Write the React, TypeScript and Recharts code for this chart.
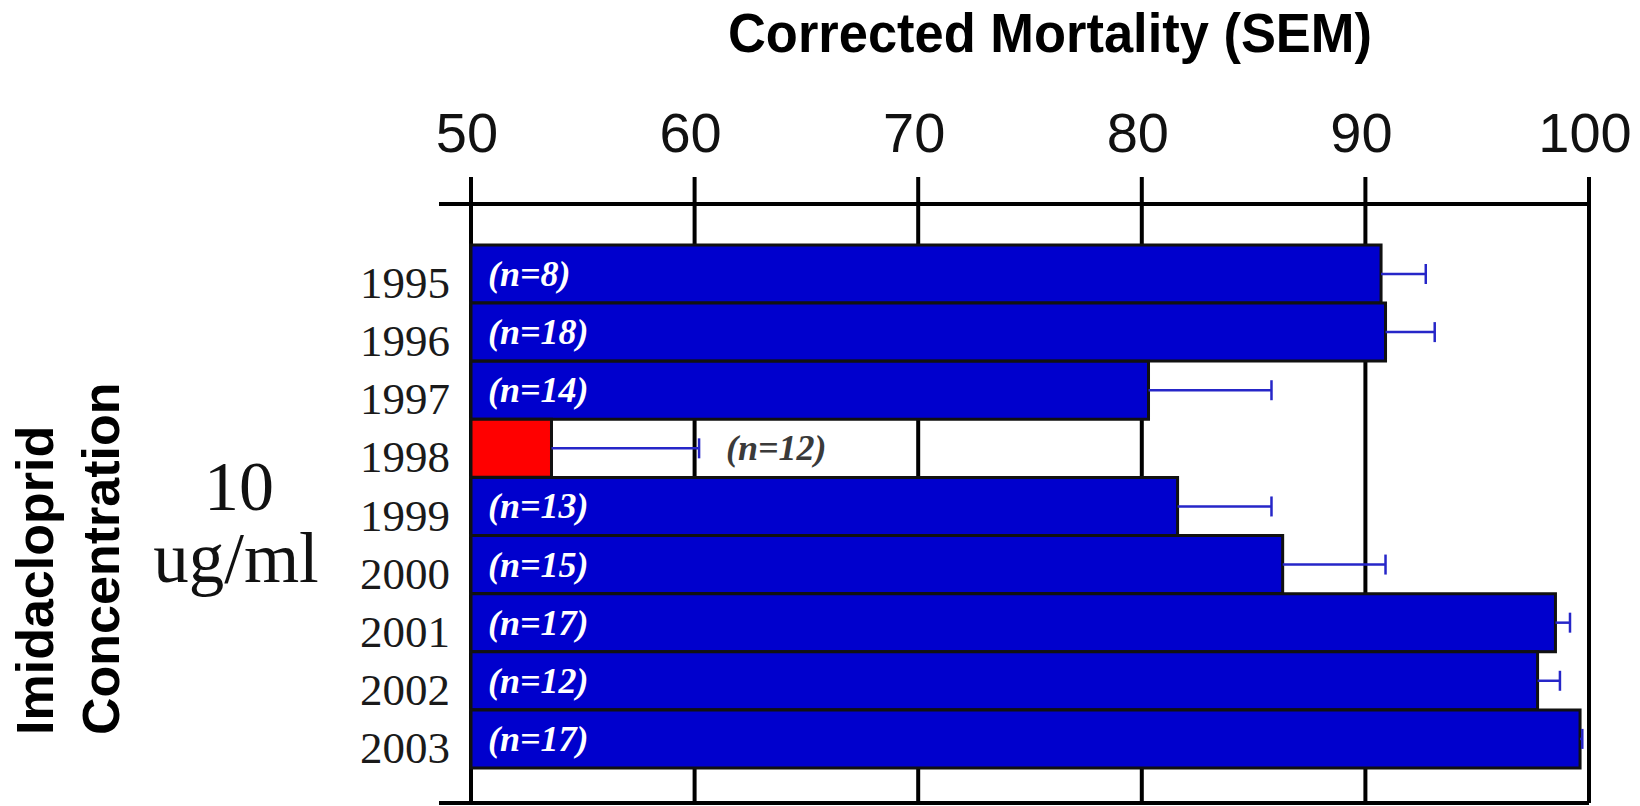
import { BarChart, Bar, XAxis, YAxis, CartesianGrid, LabelList, Label, Cell } from "recharts";

const years = ["1995", "1996", "1997", "1998", "1999", "2000", "2001", "2002", "2003"];
const mortality = [90.7, 90.9, 80.3, 53.6, 81.6, 86.3, 98.5, 97.7, 99.6];
const sem = [2.0, 2.2, 5.5, 6.6, 4.2, 4.6, 0.65, 1.0, 0.1];
const sampleSizes = [8, 18, 14, 12, 13, 15, 17, 12, 17];
const axisTicks = [50, 60, 70, 80, 90, 100];
const highlightYear = "1998";

const rows = years.map((year, i) => ({
  year,
  mortality: mortality[i],
  sem: sem[i],
  n: sampleSizes[i],
}));

const SERIF = "'Liberation Serif', 'Times New Roman', serif";
const SANS = "'Liberation Sans', Arial, Helvetica, sans-serif";
const BLUE = "#0000cd";
const WHISKER = "#2626c8";

// short bars get their (n=..) tag after the whisker instead of inside
const isShort = (i: number) => rows[i].mortality < 60;

const TopTick = ({ x, y, payload }: any) => (
  <text x={x - 4} y={y} textAnchor="middle" fontFamily={SANS} fontSize={56} fill="#111">
    {payload.value}
  </text>
);

const YearTick = ({ x, y, payload }: any) => (
  <text x={x + 73} y={y + 9} textAnchor="end" dominantBaseline="central" fontFamily={SERIF} fontSize={45} fill="#1a1a1a">
    {payload.value}
  </text>
);

const Whisker = (props: any) => {
  const { x, y, width, height } = props;
  const cy = y + height / 2;
  const end = x + width;
  return (
    <g stroke={WHISKER} strokeWidth={2.5}>
      <line x1={x} y1={cy} x2={end} y2={cy} />
      <line x1={end} y1={cy - 10} x2={end} y2={cy + 10} />
    </g>
  );
};

const InsideTag = (props: any) => {
  const { x, y, height, value, index } = props;
  if (isShort(index)) return null;
  return (
    <text x={x + 17} y={y + height / 2 + 12} fontFamily={SERIF} fontStyle="italic" fontWeight="bold" fontSize={36} fill="#fff">
      {`(n=${value})`}
    </text>
  );
};

const OutsideTag = (props: any) => {
  const { x, y, width, height, value, index } = props;
  if (!isShort(index)) return null;
  return (
    <text x={x + width + 27} y={y + height / 2 + 12} fontFamily={SERIF} fontStyle="italic" fontWeight="bold" fontSize={36} fill="#3a3a3a">
      {`(n=${value})`}
    </text>
  );
};

const TitleLabel = () => (
  <text
    x={1050}
    y={52}
    textAnchor="middle"
    fontFamily={SANS}
    fontWeight="bold"
    fontSize={56}
    textLength={644}
    lengthAdjust="spacingAndGlyphs"
    fill="#000"
  >
    Corrected Mortality (SEM)
  </text>
);

const LeftLabels = () => (
  <g>
    <text transform="translate(53,735) rotate(-90)" fontFamily={SANS} fontWeight="bold" fontSize={52} fill="#000">
      Imidacloprid
    </text>
    <text transform="translate(119,735) rotate(-90)" fontFamily={SANS} fontWeight="bold" fontSize={52} fill="#000">
      Concentration
    </text>
    <text x={239} y={510} textAnchor="middle" fontFamily={SERIF} fontSize={70} fill="#111">
      10
    </text>
    <text x={236} y={582} textAnchor="middle" fontFamily={SERIF} fontSize={71} fill="#111">
      ug/ml
    </text>
  </g>
);

export default function App() {
  return (
    <div style={{ position: "absolute", left: 0, top: 0, background: "#fff" }}>
      <BarChart
        width={1640}
        height={806}
        data={rows}
        layout="vertical"
        barCategoryGap={0}
        barGap={0}
        margin={{ top: 0, right: 51, bottom: 0, left: 0 }}
      >
        <CartesianGrid horizontal={false} syncWithTicks stroke="#000" strokeWidth={4} xAxisId="top" yAxisId="years" />
        <XAxis
          xAxisId="top"
          orientation="top"
          type="number"
          domain={[50, 100]}
          ticks={axisTicks}
          padding={{ left: 32, right: 0 }}
          height={204}
          tickSize={27}
          tickMargin={25}
          tick={<TopTick />}
          axisLine={{ stroke: "#000", strokeWidth: 4 }}
          tickLine={{ stroke: "#000", strokeWidth: 4 }}
        >
          <Label content={<TitleLabel />} />
        </XAxis>
        <XAxis
          xAxisId="bottom"
          orientation="bottom"
          type="number"
          domain={[50, 100]}
          ticks={axisTicks}
          padding={{ left: 32, right: 0 }}
          height={3}
          tick={false}
          axisLine={{ stroke: "#000", strokeWidth: 4 }}
          tickLine={{ stroke: "#000", strokeWidth: 4 }}
        />
        <YAxis
          yAxisId="years"
          type="category"
          dataKey="year"
          width={439}
          padding={{ top: 41, bottom: 35 }}
          axisLine={false}
          tickLine={false}
          tickSize={0}
          tick={<YearTick />}
          interval={0}
        >
          <Label content={<LeftLabels />} />
        </YAxis>
        <YAxis yAxisId="err" type="category" dataKey="year" hide padding={{ top: 41, bottom: 35 }} />
        <Bar
          xAxisId="top"
          yAxisId="years"
          dataKey="mortality"
          stroke="#111"
          strokeWidth={3}
          isAnimationActive={false}
        >
          {rows.map((r) => (
            <Cell key={r.year} fill={r.year === highlightYear ? "#ff0000" : BLUE} />
          ))}
          <LabelList dataKey="n" content={<InsideTag />} />
        </Bar>
        <Bar
          xAxisId="top"
          yAxisId="err"
          dataKey={(d: any) => [d.mortality, d.mortality + d.sem]}
          shape={<Whisker />}
          isAnimationActive={false}
        >
          <LabelList dataKey="n" content={<OutsideTag />} />
        </Bar>
      </BarChart>
    </div>
  );
}
